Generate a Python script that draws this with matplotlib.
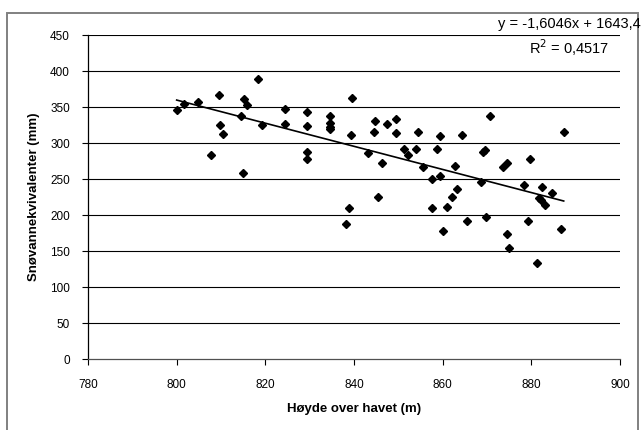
import matplotlib.pyplot as plt
from matplotlib.patches import Rectangle

# Høyde over havet (m) og snøvannekvivalenter (mm) for hvert målepunkt
hoyde = [800.0, 801.6, 804.8, 809.5, 818.4, 815.1, 815.8, 809.7, 810.4, 807.8,
         814.5, 814.9, 819.3, 824.4, 824.4, 829.3, 829.3, 829.5, 829.3, 834.6,
         834.6, 834.6, 834.6, 839.5, 839.4, 838.8, 838.2, 844.8, 844.6, 847.4,
         849.5, 849.5, 854.4, 843.1, 846.4, 851.2, 852.1, 853.9, 845.4, 855.6,
         859.4, 864.3, 870.7, 887.3, 858.8, 869.0, 869.6, 862.8, 857.6, 859.4,
         868.6, 873.5, 874.4, 879.7, 863.2, 862.2, 857.6, 860.9, 878.3, 882.5,
         884.6, 881.7, 882.1, 883.1, 865.4, 869.7, 879.3, 860.1, 874.4, 886.6,
         875.0, 881.2]
swe = [346.4, 354.3, 356.6, 366.3, 389.3, 360.8, 352.5, 325.7, 313.2, 282.8,
       337.3, 257.9, 324.8, 347.0, 327.1, 343.2, 323.5, 288.3, 277.8, 337.7,
       327.6, 322.0, 320.0, 362.2, 311.4, 210.0, 188.3, 330.8, 316.0, 326.2,
       333.6, 313.8, 316.0, 285.6, 272.7, 292.1, 282.8, 292.1, 224.7, 266.2,
       310.0, 311.0, 337.3, 316.0, 291.6, 288.3, 290.2, 268.5, 250.6, 254.3,
       246.0, 267.2, 272.3, 277.8, 236.7, 225.7, 210.0, 211.8, 242.2, 238.5,
       230.2, 223.9, 221.1, 214.6, 191.5, 197.0, 192.4, 177.6, 174.0, 181.0,
       154.1, 134.3]

# Lineær trendlinje
stigning = -1.6046
konstant = 1643.4
r2 = 0.4517

x_ticks = [780, 800, 820, 840, 860, 880, 900]
y_ticks = [0, 50, 100, 150, 200, 250, 300, 350, 400, 450]

plt.rcParams['font.family'] = ['Liberation Sans', 'DejaVu Sans']

fig = plt.figure(figsize=(6.42, 4.30), dpi=100)
ax = fig.add_axes([88 / 642, 1 - 359.3 / 430, (620 - 88) / 642, (359.3 - 35) / 430])

# ramme rundt hele diagramområdet
fig.patches.append(Rectangle((7 / 642, -0.05), 631 / 642, 1.05 - 12.7 / 430,
                             transform=fig.transFigure, fill=False,
                             edgecolor='#808080', linewidth=1.4))

for y in y_ticks[1:]:
    ax.axhline(y, color='black', linewidth=0.8, zorder=1)

ax.plot(hoyde, swe, linestyle='none', marker='D', markersize=4.1,
        color='black', zorder=3)

x0, x1 = min(hoyde), max(hoyde)
ax.plot([x0, x1], [stigning * x0 + konstant, stigning * x1 + konstant],
        color='black', linewidth=1.2, zorder=2)

ax.set_xlim(780, 900)
ax.set_ylim(0, 450)
ax.set_xticks(x_ticks)
ax.set_yticks(y_ticks)
ax.tick_params(axis='both', direction='out', length=4, width=0.8,
               labelsize=8.5, colors='black')
ax.tick_params(axis='y', pad=9)
ax.tick_params(axis='x', pad=10)
for side in ['top', 'right']:
    ax.spines[side].set_visible(False)
ax.spines['left'].set_linewidth(0.9)
ax.spines['bottom'].set_linewidth(0.9)
ax.spines['bottom'].set_color('#505050')

ax.set_xlabel('Høyde over havet (m)', fontsize=9.5, fontweight='bold', labelpad=9)
ax.set_ylabel('Snøvannekvivalenter (mm)', fontsize=9.5, fontweight='bold', labelpad=7)

likning = f'y = {stigning:.4f}x + {konstant:.1f}'.replace('.', ',')
fig.text(641 / 642, 1 - 24 / 430, likning, ha='right', va='center', fontsize=10.5)
fig.text(569 / 642, 1 - 48 / 430, f'R$^2$ = {r2:.4f}'.replace('.', ','),
         ha='center', va='center', fontsize=10.5)

fig.savefig('out.png', dpi=100)
